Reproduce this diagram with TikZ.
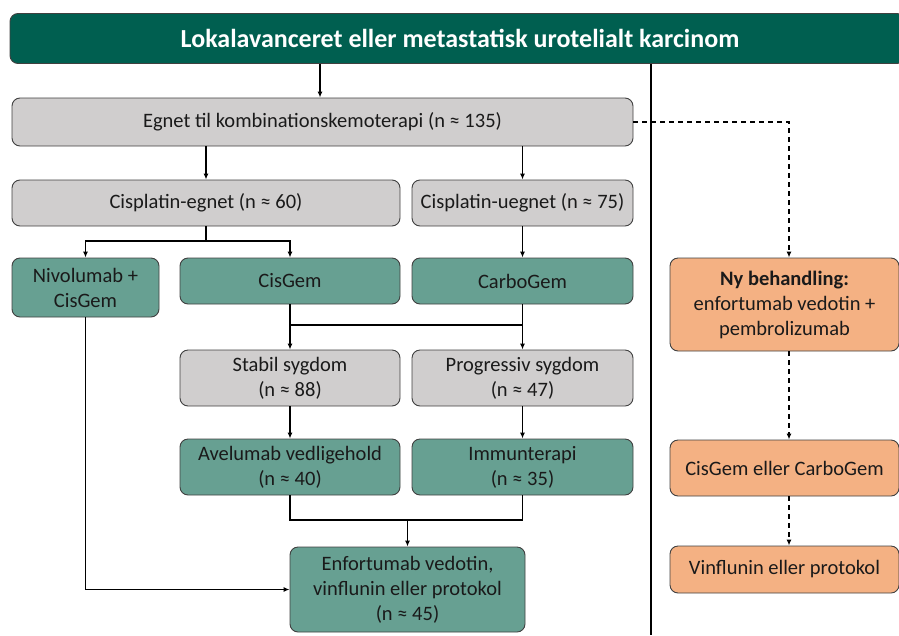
\documentclass[tikz,border=0pt]{standalone}
\usepackage{fontspec}
\setmainfont{Carlito}
\usetikzlibrary{arrows.meta,calc}
\definecolor{titlegreen}{HTML}{005F50}
\definecolor{boxgray}{HTML}{D0CECE}
\definecolor{boxteal}{HTML}{67A092}
\definecolor{boxorange}{HTML}{F4B183}
\definecolor{edgegray}{HTML}{404040}
\definecolor{txt}{HTML}{1A1A1A}
\begin{document}
\begin{tikzpicture}[x=1pt,y=-1pt,
  box/.style={draw=edgegray,line width=0.9pt,rounded corners=8pt,align=center,inner sep=2pt,font=\fontsize{20.5}{25}\selectfont,text=txt},
  graybox/.style={box,fill=boxgray},
  tealbox/.style={box,fill=boxteal},
  orangebox/.style={box,fill=boxorange},
  conn/.style={line width=1.3pt,-{Latex[length=6pt,width=5pt]}},
  plain/.style={line width=1.3pt},
  dconn/.style={conn,dash pattern=on 5pt off 4pt}]
\useasboundingbox (0,0) rectangle (899,635);
\begin{scope}
\clip (0,0) rectangle (899,635);
\node[box,fill=titlegreen,text=white,font=\bfseries\fontsize{26}{30}\selectfont,minimum width=895pt,minimum height=50pt] (title) at (457.5,38.5) {\hspace*{5pt}Lokalavanceret eller metastatisk urotelialt karcinom};
\node[orangebox,minimum width=229pt,minimum height=93pt] (ny) at (784.5,304.5) {\textbf{Ny behandling:}\\enfortumab vedotin +\\pembrolizumab};
\node[orangebox,minimum width=229pt,minimum height=56pt] (cgcb) at (784.5,468) {CisGem eller CarboGem};
\node[orangebox,minimum width=229pt,minimum height=47pt] (vinf) at (784.5,569.5) {Vinflunin eller protokol};
\end{scope}
\node[graybox,minimum width=621pt,minimum height=48pt] (egnet) at (322.5,122) {Egnet til kombinationskemoterapi (n ≈ 135)};
\node[graybox,minimum width=388pt,minimum height=46pt] (cise) at (206,203) {Cisplatin-egnet (n ≈ 60)};
\node[graybox,minimum width=221pt,minimum height=46pt] (cisu) at (522.5,203) {Cisplatin-uegnet (n ≈ 75)};
\node[tealbox,minimum width=147pt,minimum height=59pt] (nivo) at (85.5,287.5) {Nivolumab +\\CisGem};
\node[tealbox,minimum width=220pt,minimum height=46pt] (cisgem) at (290,281) {CisGem};
\node[tealbox,minimum width=221pt,minimum height=46pt] (carbo) at (522.5,281) {CarboGem};
\node[graybox,minimum width=220pt,minimum height=56pt] (stabil) at (290,378) {Stabil sygdom\\(n ≈ 88)};
\node[graybox,minimum width=221pt,minimum height=56pt] (prog) at (522.5,378) {Progressiv sygdom\\(n ≈ 47)};
\node[tealbox,minimum width=220pt,minimum height=56pt] (avel) at (290,467) {Avelumab vedligehold\\(n ≈ 40)};
\node[tealbox,minimum width=221pt,minimum height=56pt] (immun) at (522.5,467) {Immunterapi\\(n ≈ 35)};
\node[tealbox,minimum width=235pt,minimum height=85pt] (enfo) at (407.5,589.5) {Enfortumab vedotin,\\vinflunin eller protokol\\(n ≈ 45)};
% divider
\coordinate (divtop) at (651,0);
\draw[plain] (divtop |- title.south) -- (651,635);
% connectors
\draw[conn] (title.south -| 320,0) -- (egnet.north -| 320,0);
\draw[conn] (egnet.south -| cise) -- (cise.north);
\draw[conn] (egnet.south -| cisu) -- (cisu.north);
\coordinate (j1) at (206,241);
\draw[plain] (cise.south) -- (j1);
\draw[conn] (j1) -| (nivo.north);
\draw[conn] (j1) -| (cisgem.north);
\draw[conn] (cisu.south) -- (carbo.north);
\coordinate (j2) at (290,325);
\coordinate (j3) at (522.5,325);
\draw[plain] (cisgem.south) -- (j2) -- (j3);
\draw[plain] (carbo.south) -- (j3);
\draw[conn] (j2) -- (stabil.north);
\draw[conn] (j3) -- (prog.north);
\draw[conn] (stabil.south) -- (avel.north);
\draw[conn] (prog.south) -- (immun.north);
\coordinate (j4) at (407.5,520);
\draw[plain] (avel.south) |- (j4);
\draw[plain] (immun.south) |- (j4);
\draw[conn] (j4) -- (enfo.north);
\draw[conn] (nivo.south) |- (enfo.west);
% dashed right column
\coordinate (dc) at (789,0);
\draw[dconn] (egnet.east) -| (dc |- ny.north);
\draw[dconn] (dc |- ny.south) -- (dc |- cgcb.north);
\draw[dconn] (dc |- cgcb.south) -- (dc |- vinf.north);
\end{tikzpicture}
\end{document}
